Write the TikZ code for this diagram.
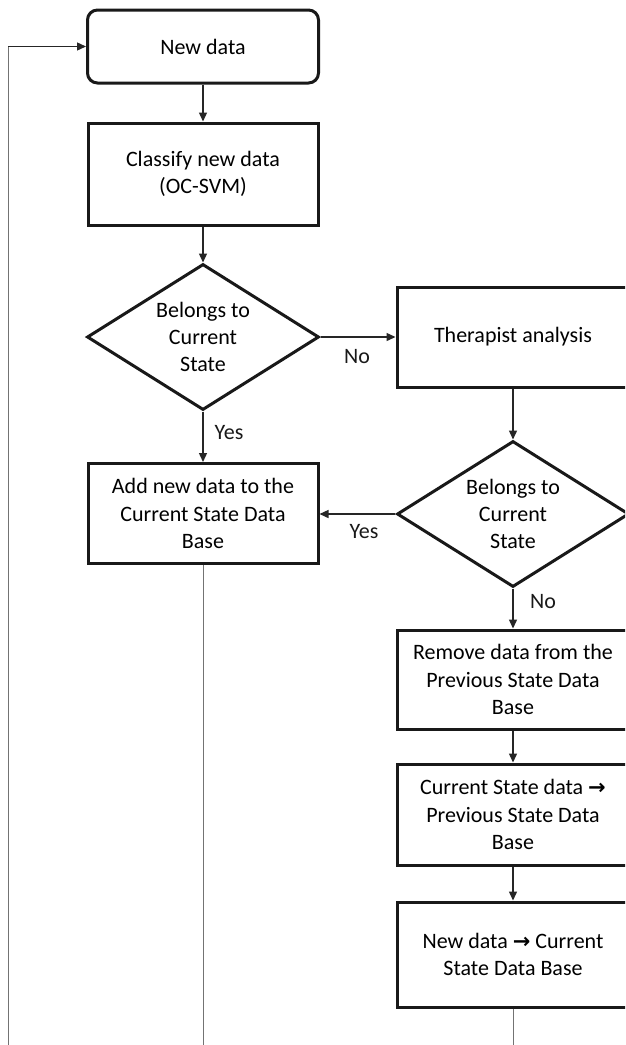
\documentclass[tikz,border=0pt]{standalone}
\usepackage{fontspec}
\setmainfont{Carlito}
\newfontfamily\arrfont{DejaVu Sans}
\usetikzlibrary{shapes.geometric,arrows.meta}
\tikzset{
  box/.style={draw=black!90, line width=3pt, rectangle, align=center, inner sep=0pt},
  rbox/.style={box, rounded corners=10pt},
  dec/.style={draw=black!90, line width=3pt, diamond, aspect=1.59, align=center, inner sep=0pt,
              minimum width=232pt, minimum height=146pt},
  conn/.style={draw=black!85, line width=1.4pt, -{Triangle[length=9pt,width=8pt]}},
  loopline/.style={draw=black!55, line width=1pt},
  lbl/.style={inner sep=0pt, text=black!90},
}
\newcommand{\rarr}{{\arrfont\bfseries\fontsize{21}{27.3}\selectfont →}}
\begin{document}
\begin{tikzpicture}[x=1pt,y=-1pt,font=\fontsize{22}{27.3}\selectfont]
\useasboundingbox (0,0) rectangle (625,1045);
\fill[white] (0,0) rectangle (625,1045);
\begin{scope}
\clip (0,0) rectangle (625,1045);
% nodes
\node[rbox, minimum width=231pt, minimum height=73pt] (newdata) at (203,46.5) {New data};
\node[box, minimum width=230pt, minimum height=102pt] (classify) at (203,174) {Classify new data\\(OC-SVM)};
\node[dec] (d1) at (203,337) {Belongs to\\Current\\State};
\node[box, minimum width=232pt, minimum height=100pt] (ther) at (513,337) {Therapist analysis};
\node[box, minimum width=230pt, minimum height=100pt] (add) at (203,513.5) {Add new data to the\\Current State Data\\Base};
\node[dec] (d2) at (513,514) {Belongs to\\Current\\State};
\node[box, minimum width=232pt, minimum height=99pt] (remove) at (513,679.5) {Remove data from the\\Previous State Data\\Base};
\node[box, minimum width=232pt, minimum height=101pt] (cur) at (513,814.5) {Current State data \rarr\\Previous State Data\\Base};
\node[box, minimum width=232pt, minimum height=105pt] (nd2) at (513,954.5) {New data \rarr{} Current\\State Data Base};
% labels
\node[lbl] (no1) at (357,357) {No};
\node[lbl] (yes1) at (229,433) {Yes};
\node[lbl] (yes2) at (364,532) {Yes};
\node[lbl] (no2) at (543,602) {No};
% loose ends
\coordinate (bl) at (8,1045);
\coordinate (bm) at (203,1045);
\coordinate (br) at (513,1045);
% connectors
\draw[conn] (newdata) -- (classify);
\draw[conn] (classify) -- (d1);
\draw[conn] (d1) -- (add);
\draw[conn] (d1) -- (ther);
\draw[conn] (ther) -- (d2);
\draw[conn] (d2) -- (add.east |- d2.west);
\draw[conn] (d2) -- (remove);
\draw[conn] (remove) -- (cur);
\draw[conn] (cur) -- (nd2);
\draw[loopline] (add) -- (bm);
\draw[loopline] (nd2) -- (br);
\draw[loopline] (bl) -- (8,46.5);
\draw[conn] (8,46.5) -- (newdata.west);
\end{scope}
\end{tikzpicture}
\end{document}
